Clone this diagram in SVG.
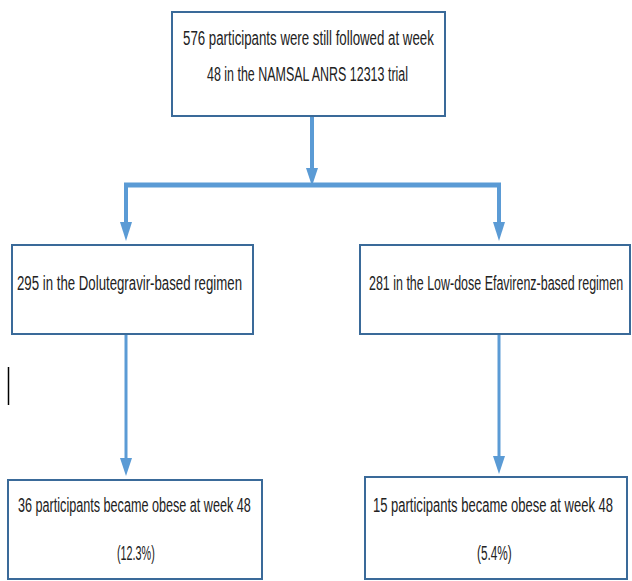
<svg xmlns="http://www.w3.org/2000/svg" width="632" height="581" viewBox="0 0 632 581">
<style>
.box{fill:#fff;stroke:#3a6a99;stroke-width:2}
.t{font-family:"Liberation Sans",Arial,sans-serif;font-size:21px;fill:#222}
.c{stroke:#5b9bd5;fill:none}
.h{fill:#5b9bd5}
</style>
<rect width="632" height="581" fill="#fff"/>
<g id="connectors">
<line class="c" x1="312" y1="117" x2="312" y2="170" stroke-width="4"/>
<polygon class="h" points="306,168 318,168 312,186"/>
<line class="c" x1="124" y1="185" x2="501" y2="185" stroke-width="5"/>
<line class="c" x1="126" y1="185" x2="126" y2="225" stroke-width="4"/>
<polygon class="h" points="120,222 132,222 126,241"/>
<line class="c" x1="499" y1="185" x2="499" y2="225" stroke-width="4"/>
<polygon class="h" points="493,222 505,222 499,241"/>
<line class="c" x1="126" y1="335" x2="126" y2="460" stroke-width="3"/>
<polygon class="h" points="120,458 132,458 126,476"/>
<line class="c" x1="499" y1="335" x2="499" y2="458" stroke-width="3"/>
<polygon class="h" points="493,456 505,456 499,474"/>
</g>
<g id="top">
<rect class="box" x="172" y="12" width="273" height="104"/>
<text class="t" transform="translate(183,45) scale(0.6,1)" textLength="418" lengthAdjust="spacingAndGlyphs">576 participants were still followed at week</text>
<text class="t" transform="translate(207,81) scale(0.6,1)" textLength="335" lengthAdjust="spacingAndGlyphs">48 in the NAMSAL ANRS 12313 trial</text>
</g>
<g id="dtg">
<rect class="box" x="12" y="245" width="241" height="89"/>
<text class="t" transform="translate(17,290) scale(0.6,1)" textLength="375" lengthAdjust="spacingAndGlyphs">295 in the Dolutegravir-based regimen</text>
</g>
<g id="efv">
<rect class="box" x="360" y="245" width="270" height="89"/>
<text class="t" transform="translate(369,290) scale(0.55,1)" textLength="462" lengthAdjust="spacingAndGlyphs">281 in the Low-dose Efavirenz-based regimen</text>
</g>
<g id="dtg-obese">
<rect class="box" x="8" y="480" width="254" height="99"/>
<text class="t" transform="translate(18,512) scale(0.6,1)" textLength="388" lengthAdjust="spacingAndGlyphs">36 participants became obese at week 48</text>
<text class="t" transform="translate(117,560) scale(0.6,1)" textLength="63" lengthAdjust="spacingAndGlyphs">(12.3%)</text>
</g>
<g id="efv-obese">
<rect class="box" x="365" y="477" width="262" height="102"/>
<text class="t" transform="translate(373,512) scale(0.6,1)" textLength="400" lengthAdjust="spacingAndGlyphs">15 participants became obese at week 48</text>
<text class="t" transform="translate(477,560) scale(0.6,1)" textLength="58" lengthAdjust="spacingAndGlyphs">(5.4%)</text>
</g>
<line x1="8.5" y1="367" x2="8.5" y2="405" stroke="#000" stroke-width="1.5"/>
</svg>
